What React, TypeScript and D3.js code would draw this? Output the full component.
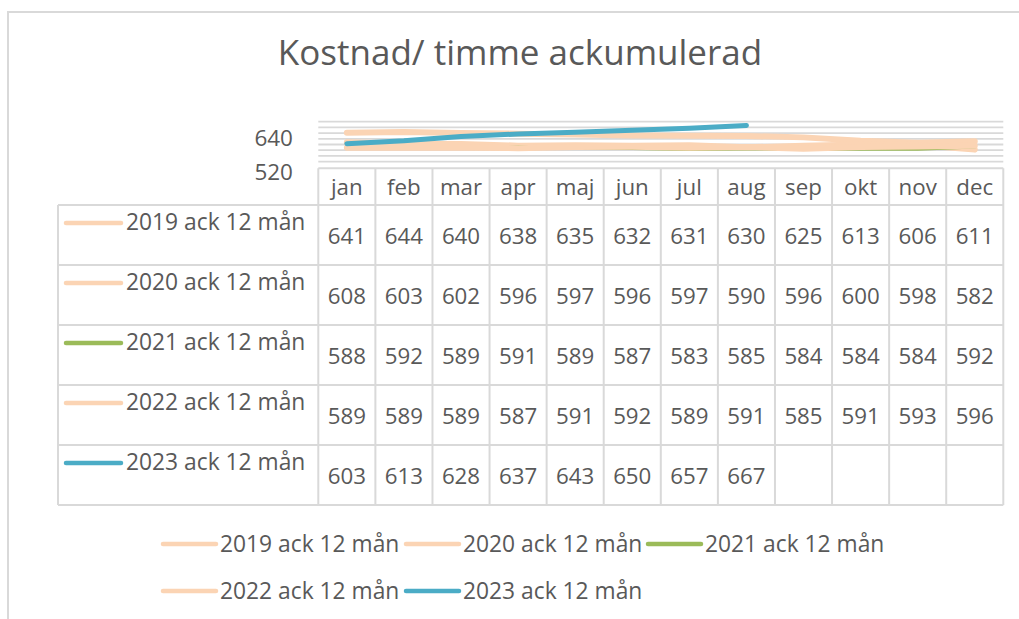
import React from 'react';
import * as d3 from 'd3';

// Chart data
const months: string[] = ['jan', 'feb', 'mar', 'apr', 'maj', 'jun', 'jul', 'aug', 'sep', 'okt', 'nov', 'dec'];
const seriesNames: string[] = ['2019 ack 12 mån', '2020 ack 12 mån', '2021 ack 12 mån', '2022 ack 12 mån', '2023 ack 12 mån'];
const v2019: (number | null)[] = [641, 644, 640, 638, 635, 632, 631, 630, 625, 613, 606, 611];
const v2020: (number | null)[] = [608, 603, 602, 596, 597, 596, 597, 590, 596, 600, 598, 582];
const v2021: (number | null)[] = [588, 592, 589, 591, 589, 587, 583, 585, 584, 584, 584, 592];
const v2022: (number | null)[] = [589, 589, 589, 587, 591, 592, 589, 591, 585, 591, 593, 596];
const v2023: (number | null)[] = [603, 613, 628, 637, 643, 650, 657, 667, null, null, null, null];
const seriesColors: string[] = ['#FBD4B4', '#FBD4B4', '#9BBB59', '#FBD4B4', '#4BACC6'];
const yTicks: number[] = [520, 640];

const allValues = [v2019, v2020, v2021, v2022, v2023];

const W = 1019;
const H = 619;
const textColor = '#595959';
const gridColor = '#D9D9D9';
const font = '"Open Sans", "Noto Sans", sans-serif';

const App = () => {
  const x = d3.scaleBand<string>().domain(months).range([318.3, 1003.3]);
  const y = d3.scaleLinear().domain([520, 680]).range([167.3, 121.7]);
  const rows = d3.scaleBand<string>().domain(seriesNames).range([205, 505]);
  const gridVals = d3.range(540, 681, 20);

  const cx = (i: number) => (x(months[i]) as number) + x.bandwidth() / 2;
  const line = d3
    .line<number | null>()
    .defined((d) => d !== null)
    .x((_, i) => cx(i))
    .y((d) => y(d as number));

  const tableLeft = 58;
  const headerTop = 168.3;
  const tableRight = x.range()[1];

  // legend positions below table
  const legendItems = [
    { x: 161, y: 544 },
    { x: 404, y: 544 },
    { x: 646, y: 544 },
    { x: 161, y: 591 },
    { x: 404, y: 591 },
  ];

  return (
    <svg
      width={W}
      height={H}
      style={{ position: 'absolute', left: 0, top: 0, fontFamily: font }}
    >
      <rect x={0} y={0} width={W} height={H} fill="#fff" />
      <rect x={8} y={12} width={W + 20} height={H + 20} fill="#fff" stroke={gridColor} strokeWidth={2} />

      <text x={520} y={51} textAnchor="middle" dominantBaseline="central" fontSize={35} fill={textColor}>
        Kostnad/ timme ackumulerad
      </text>

      {/* gridlines */}
      <g>
        {gridVals.map((v) => (
          <line key={v} x1={318.3} x2={tableRight} y1={y(v)} y2={y(v)} stroke={gridColor} strokeWidth={1.8} />
        ))}
      </g>

      {/* y axis labels */}
      <g>
        {yTicks.map((t) => (
          <text key={t} x={293} y={y(t) + 4.5} textAnchor="end" dominantBaseline="central" fontSize={22.5} fill={textColor}>
            {t}
          </text>
        ))}
      </g>

      {/* lines */}
      <g fill="none" strokeLinecap="round" strokeLinejoin="round">
        {allValues.map((vals, si) => (
          <path
            key={si}
            d={line(vals) || ''}
            stroke={seriesColors[si]}
            strokeWidth={si === 4 ? 5 : si === 2 ? 3.5 : 6}
          />
        ))}
      </g>

      {/* data table */}
      <g stroke={gridColor} strokeWidth={2} fill="none">
        <line x1={318.3} x2={tableRight} y1={headerTop} y2={headerTop} />
        {months.map((m) => (
          <line key={m} x1={x(m) as number} x2={x(m) as number} y1={headerTop} y2={505} />
        ))}
        <line x1={tableRight} x2={tableRight} y1={headerTop} y2={505} />
        <line x1={tableLeft} x2={tableLeft} y1={205} y2={505} />
        {seriesNames.map((s) => (
          <line key={s} x1={tableLeft} x2={tableRight} y1={rows(s) as number} y2={rows(s) as number} />
        ))}
        <line x1={tableLeft} x2={tableRight} y1={505} y2={505} />
      </g>

      <g fontSize={22.3} fill={textColor}>
        {months.map((m, i) => (
          <text key={m} x={cx(i)} y={186} textAnchor="middle" dominantBaseline="central">
            {m}
          </text>
        ))}
        {seriesNames.map((s, si) => {
          const top = rows(s) as number;
          return (
            <g key={s}>
              <line
                x1={66}
                x2={121}
                y1={top + 18}
                y2={top + 18}
                stroke={seriesColors[si]}
                strokeWidth={4.5}
                strokeLinecap="round"
              />
              <text x={126} y={top + 16} dominantBaseline="central" fontSize={22.8}>
                {s}
              </text>
              {allValues[si].map((v, i) =>
                v === null ? null : (
                  <text key={i} x={cx(i)} y={top + rows.bandwidth() / 2} textAnchor="middle" dominantBaseline="central">
                    {v}
                  </text>
                )
              )}
            </g>
          );
        })}
      </g>

      {/* legend */}
      <g fontSize={22.8} fill={textColor}>
        {seriesNames.map((s, si) => (
          <g key={s} transform={`translate(${legendItems[si].x}, ${legendItems[si].y})`}>
            <line x1={2} x2={55} y1={0} y2={0} stroke={seriesColors[si]} strokeWidth={4.5} strokeLinecap="round" />
            <text x={59} y={-1} dominantBaseline="central">
              {s}
            </text>
          </g>
        ))}
      </g>
    </svg>
  );
};

export default App;
